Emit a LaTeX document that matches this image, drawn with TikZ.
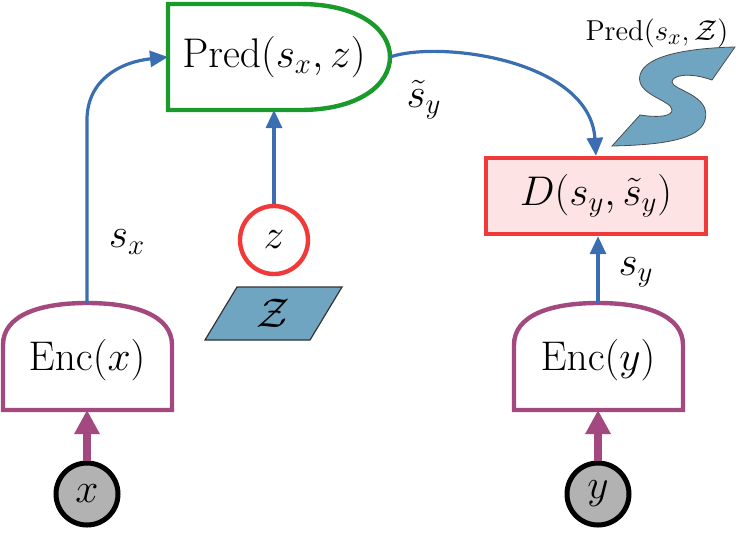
\documentclass[tikz,border=0pt]{standalone}
\usepackage{amsmath}
\usepackage{amssymb}
\usetikzlibrary{arrows.meta}
\definecolor{arrowblue}{HTML}{3A6EB0}
\definecolor{encpurple}{HTML}{A3497F}
\definecolor{predgreen}{HTML}{1A9A2A}
\definecolor{boxred}{HTML}{F03A3A}
\definecolor{boxpink}{HTML}{FDE3E3}
\definecolor{steel}{HTML}{6FA5C0}
\tikzset{
  enc/.style={draw=encpurple,line width=2.2pt,fill=white},
  var/.style={circle,draw=black,line width=2.5pt,fill=black!30,minimum size=31pt,inner sep=0pt},
  flow/.style={->,>={Triangle[length=9pt,width=8pt]},draw=arrowblue,line width=1.6pt},
  feed/.style={->,>={Triangle[length=12pt,width=12pt]},draw=encpurple,line width=4pt}
}
\begin{document}
\begin{tikzpicture}[x=0.5pt,y=-0.5pt,font=\fontsize{22}{26}\selectfont]
  \useasboundingbox (0,0) rectangle (740,532);
  %encoders
  \draw[enc] (3,410) -- (3,345) .. controls (3,315) and (40,303) .. (87,303) .. controls (134,303) and (172,315) .. (172,345) -- (172,410) -- cycle;
  \draw[enc] (514,410) -- (514,345) .. controls (514,315) and (551,303) .. (598,303) .. controls (645,303) and (683,315) .. (683,345) -- (683,410) -- cycle;
  \node (encx) at (87,360) {$\mathrm{Enc}(x)$};
  \node (ency) at (598,360) {$\mathrm{Enc}(y)$};
  \coordinate (encxtop) at (87,304);
  \coordinate (encxbot) at (87,410);
  \coordinate (encytop) at (598,304);
  \coordinate (encybot) at (598,410);
  \node[var] (x) at (87,494) {$x$};
  \node[var] (y) at (598,494) {$y$};
  %predictor
  \draw[draw=predgreen,line width=2.2pt,fill=white] (168,4) -- (300,4) .. controls (360,4) and (390,30) .. (390,57) .. controls (390,84) and (360,110) .. (300,110) -- (168,110) -- cycle;
  \node (pred) at (274,57) {$\mathrm{Pred}(s_x,z)$};
  \coordinate (predleft) at (168,57);
  \coordinate (predright) at (390,57);
  \coordinate (predbot) at (274,110);
  \node[circle,draw=boxred,line width=2.2pt,fill=white,minimum size=34pt,inner sep=0pt] (z) at (274,240) {$z$};
  \draw[draw=black!80,fill=steel,line width=0.6pt] (205,340) -- (237,287) -- (342,287) -- (310,340) -- cycle;
  \node (Zset) at (273,313) {$\mathcal{Z}$};
  \node[draw=boxred,line width=2.2pt,fill=boxpink,minimum width=110pt,minimum height=38pt] (D) at (596,196) {$D(s_y,\tilde{s}_y)$};
  %predicted set
  \node[font=\fontsize{15}{18}\selectfont] (predset) at (657,33) {$\mathrm{Pred}(s_x,\mathcal{Z})$};
  \fill[steel,draw=black!70,line width=0.4pt] (735,47) -- (712,80) .. controls (690,72) and (672,75) .. (672,82) .. controls (672,90) and (712,95) .. (705,120) .. controls (700,140) and (660,145) .. (612,146) -- (640,115) .. controls (660,118) and (672,116) .. (672,110) .. controls (672,100) and (635,95) .. (640,75) .. controls (645,55) and (690,48) .. cycle;
  %connections
  \draw[feed] (x) -- (encxbot);
  \draw[feed] (y) -- (encybot);
  \draw[flow] (encxtop) -- (87,120) .. controls (87,80) and (120,62) .. (predleft);
  \draw[flow] (z) -- (predbot);
  \draw[flow] (predright) .. controls (440,40) and (590,60) .. (D.north);
  \draw[flow] (encytop) -- (encytop |- D.south);
  \node (sx) at (127,242) {$s_x$};
  \node (sy) at (636,272) {$s_y$};
  \node (sytilde) at (424,100) {$\tilde{s}_y$};
\end{tikzpicture}
\end{document}
